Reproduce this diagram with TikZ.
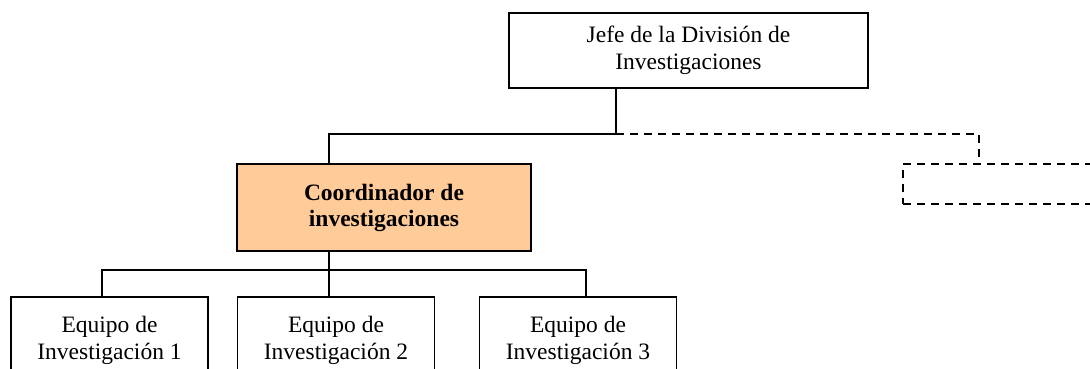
\documentclass[tikz,border=0pt]{standalone}
\usepackage{fontspec}
\setmainfont{Liberation Serif}
\usepackage[table,xcdraw]{xcolor}
\usepackage{tikz}
\definecolor{peach}{RGB}{255,204,153}

\begin{document}
\begin{tikzpicture}[x=1pt,y=-1pt,
	box/.style={rectangle,draw,line width=1.4pt,align=center,inner sep=0pt,
		font=\fontsize{23.5}{27}\selectfont},
	team/.style={box,minimum width=197pt,minimum height=86pt},
	dashline/.style={line width=1.4pt,dash pattern=on 8pt off 6pt},
	]
	\clip (0,0) rectangle (1090,368);
	\fill[white] (0,0) rectangle (1090,368);
	\node[box,minimum width=359pt,minimum height=75pt] (jefe) at (688.5,50.5)
		{Jefe de la División de\\Investigaciones};
	\node[box,fill=peach,minimum width=294pt,minimum height=87pt,
		font=\fontsize{23.5}{26}\selectfont\bfseries] (coord) at (384,207.5)
		{Coordinador de\\investigaciones};
	\node[box,dashline,minimum width=194pt,minimum height=40pt] (staff) at (1000,184) {};
	\node[team] (eq1) at (109.5,340) {Equipo de\\Investigación 1};
	\node[team] (eq2) at (336,340) {Equipo de\\Investigación 2};
	\node[team] (eq3) at (578,340) {Equipo de\\Investigación 3};
	\coordinate (hub) at (616,134);
	\coordinate (tbus) at (329,270);
	\draw[line width=1.4pt] (jefe.south -| hub) -- (hub) -| ([xshift=-55pt]coord.north);
	\draw[dashline] (hub) -| ([xshift=-21pt]staff.north);
	\draw[line width=1.4pt] ([xshift=-55pt]coord.south) -- ([xshift=-7pt]eq2.north);
	\draw[line width=1.4pt] ([xshift=-7.5pt]eq1.north) |- (tbus) -| ([xshift=8pt]eq3.north);
\end{tikzpicture}
\end{document}
